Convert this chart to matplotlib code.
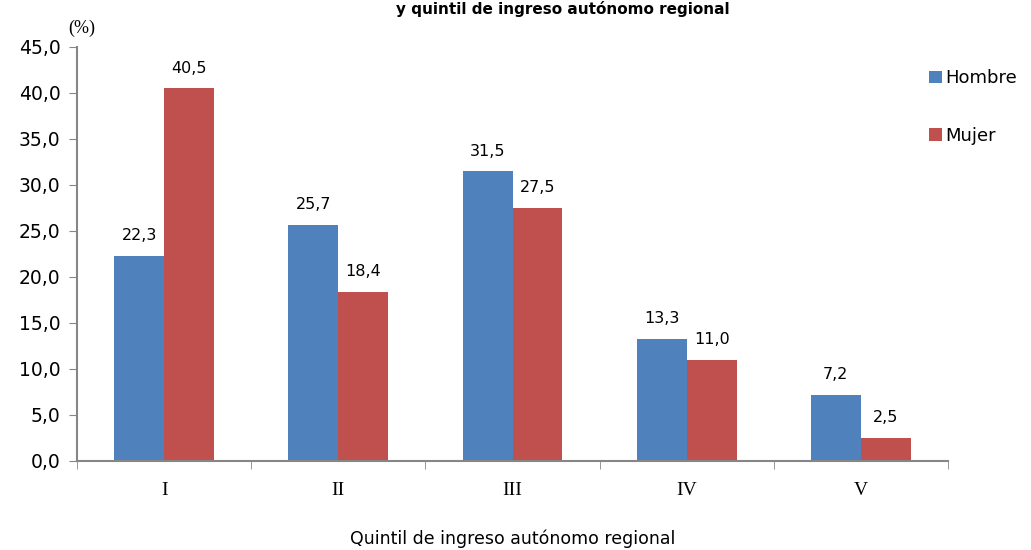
import matplotlib.pyplot as plt
import numpy as np

quintiles = ['I', 'II', 'III', 'IV', 'V']
hombre = [22.3, 25.7, 31.5, 13.3, 7.2]
mujer = [40.5, 18.4, 27.5, 11.0, 2.5]

blue = '#4F81BD'
red = '#C0504D'
grey = '#868686'

fig = plt.figure(figsize=(10.31, 5.5), dpi=100)
ax = fig.add_axes([77 / 1031, 1 - 461 / 550, 871 / 1031, 414 / 550])

x = np.arange(len(quintiles))
w = 0.287
b1 = ax.bar(x - w / 2, hombre, w, color=blue, label='Hombre')
b2 = ax.bar(x + w / 2, mujer, w, color=red, label='Mujer')

def fmt(v):
    return f'{v:.1f}'.replace('.', ',')

for bars, vals in ((b1, hombre), (b2, mujer)):
    for r, v in zip(bars, vals):
        ax.annotate(fmt(v), (r.get_x() + r.get_width() / 2, v), xytext=(0, 9),
                    textcoords='offset points', ha='center', va='bottom', fontsize=11.5)

ax.set_xlim(-0.5, 4.5)
ax.set_ylim(0, 45)
ax.set_yticks(np.arange(0, 46, 5))
ax.set_yticklabels([fmt(v) for v in np.arange(0, 46, 5)], fontsize=13.5)
ax.set_xticks(x)
ax.set_xticklabels(quintiles, fontsize=14, family='Liberation Serif')
ax.set_xticks(np.arange(-0.5, 5, 1), minor=True)
ax.tick_params(axis='x', which='major', length=0, pad=15)
ax.tick_params(axis='x', which='minor', length=6, color=grey, direction='out')
ax.tick_params(axis='y', length=6, color=grey, direction='out', pad=6)

for s in ('top', 'right'):
    ax.spines[s].set_visible(False)
for s in ('left', 'bottom'):
    ax.spines[s].set_color(grey)
    ax.spines[s].set_linewidth(1.5)

ax.set_xlabel('Quintil de ingreso autónomo regional', fontsize=12.5, labelpad=22)
fig.text(68 / 1031, 1 - 28 / 550, '(%)', fontsize=13, family='Liberation Serif', ha='left', va='center')
fig.text(563 / 1031, 1 - 1 / 550, 'y quintil de ingreso autónomo regional', fontsize=11,
         fontweight='bold', ha='center', va='top')

fig.legend(handles=[b1, b2], loc='upper left', bbox_to_anchor=(922 / 1031, 1 - 62 / 550),
           frameon=False, fontsize=13, handlelength=0.7, handleheight=0.7,
           handletextpad=0.2, labelspacing=2.2, borderaxespad=0)

fig.savefig('out.png', dpi=100)
